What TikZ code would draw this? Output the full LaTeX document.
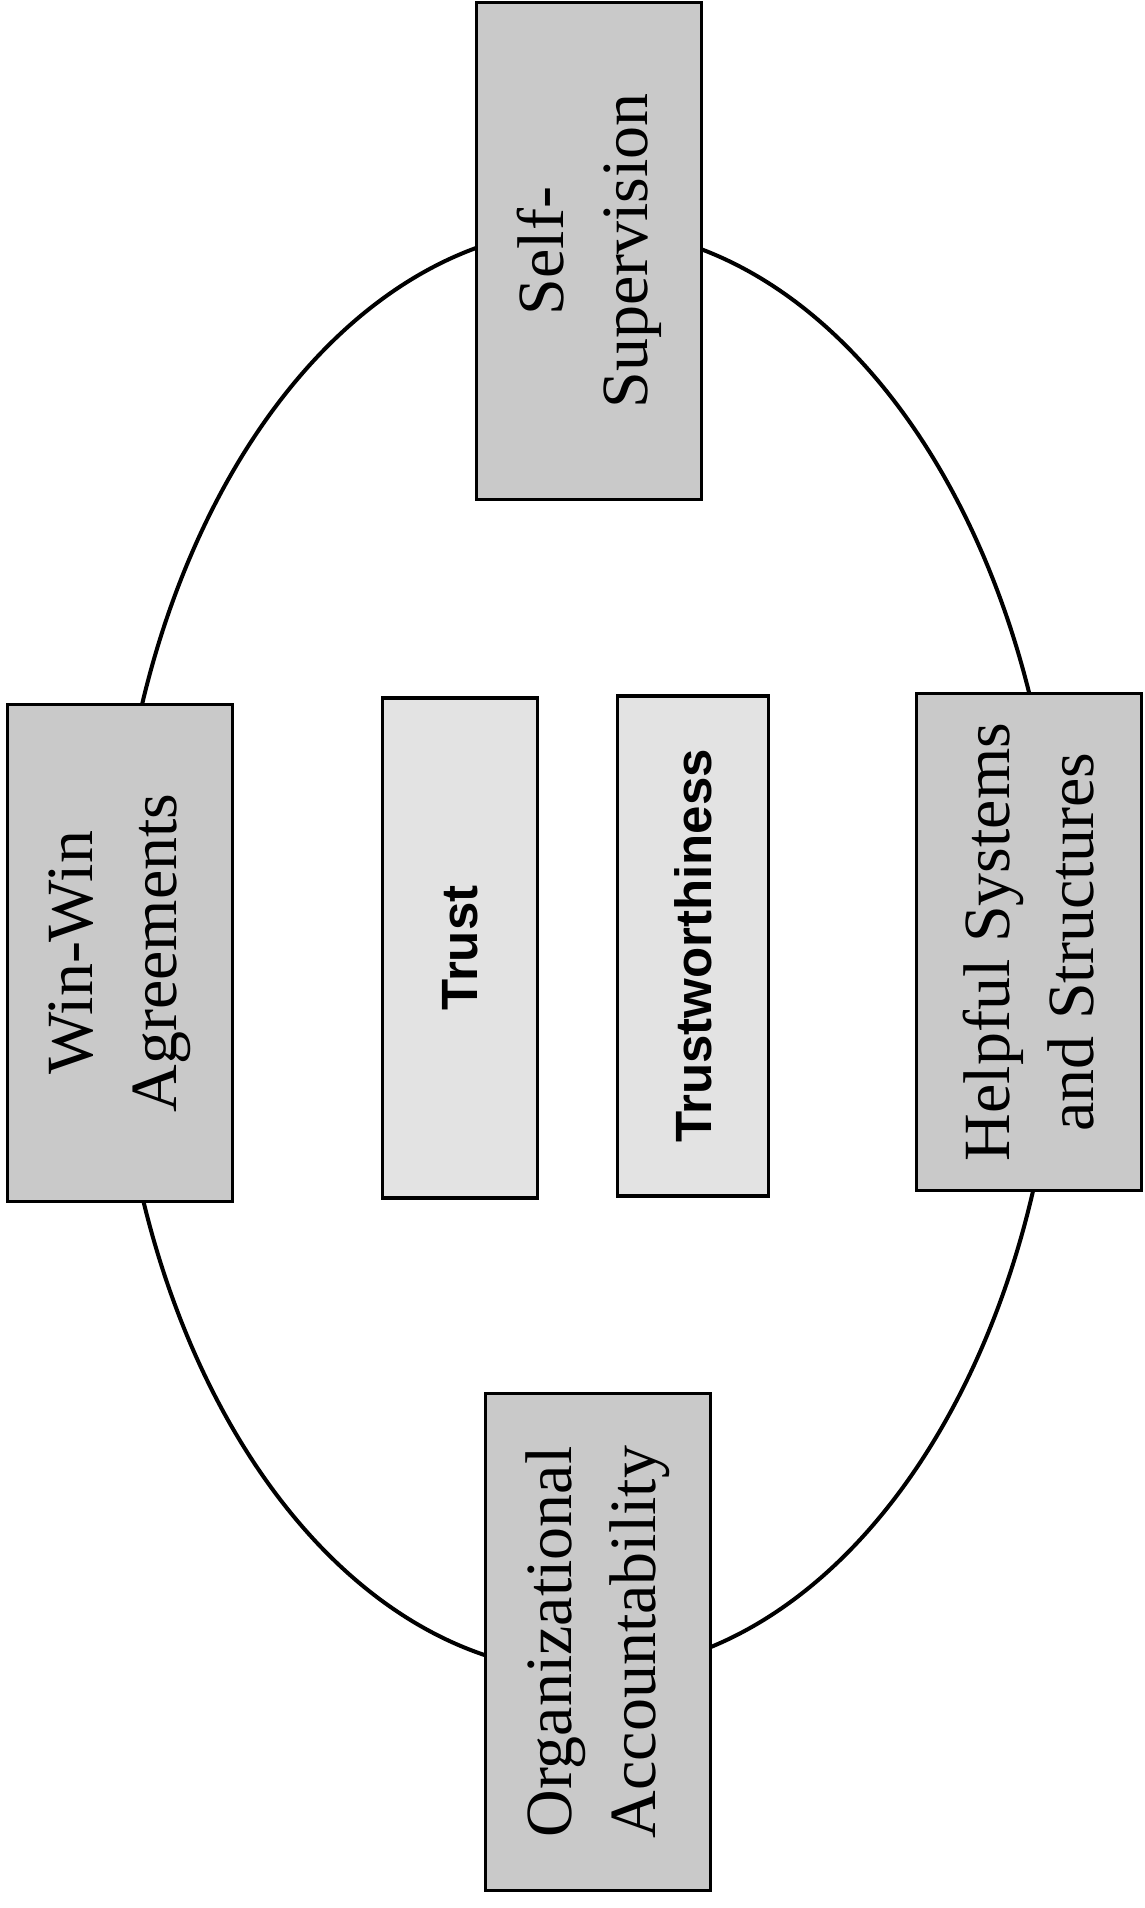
\documentclass[tikz,border=0pt]{standalone}
\usepackage{fontspec}
\setmainfont{Liberation Serif}
\newfontfamily\labelsans{Liberation Sans}
\begin{document}
\begin{tikzpicture}[x=1pt, y=-1pt,
  outerbox/.style={draw=black, line width=3.5pt, fill=black!21, rotate=90,
    minimum width=497pt, minimum height=225pt, inner sep=0pt, align=center,
    font=\fontsize{66}{84}\selectfont},
  innerbox/.style={draw=black, line width=3.5pt, fill=black!11, rotate=90,
    minimum width=500pt, inner sep=0pt, align=center,
    font=\labelsans\bfseries\fontsize{51}{60}\selectfont},
  ring/.style={draw=black, line width=4pt}]
  \useasboundingbox (0,0) rectangle (1145,1908);

  % the cycle joining the four outer factors
  \draw[ring] (587,950) ellipse [x radius=473pt, y radius=722pt];

  % outer factors
  \node[outerbox] (self) at (589,251) {Self-\\Supervision};
  \node[outerbox] (winwin) at (120,953) {Win-Win\\Agreements};
  \node[outerbox] (helpful) at (1029,942) {Helpful Systems\\and Structures};
  \node[outerbox] (org) at (598,1642) {Organizational\\Accountability};

  % core
  \node[innerbox, minimum height=155pt] (trust) at (460,948) {Trust};
  \node[innerbox, minimum height=151pt] (worthy) at (693,946) {Trustworthiness};
\end{tikzpicture}
\end{document}
